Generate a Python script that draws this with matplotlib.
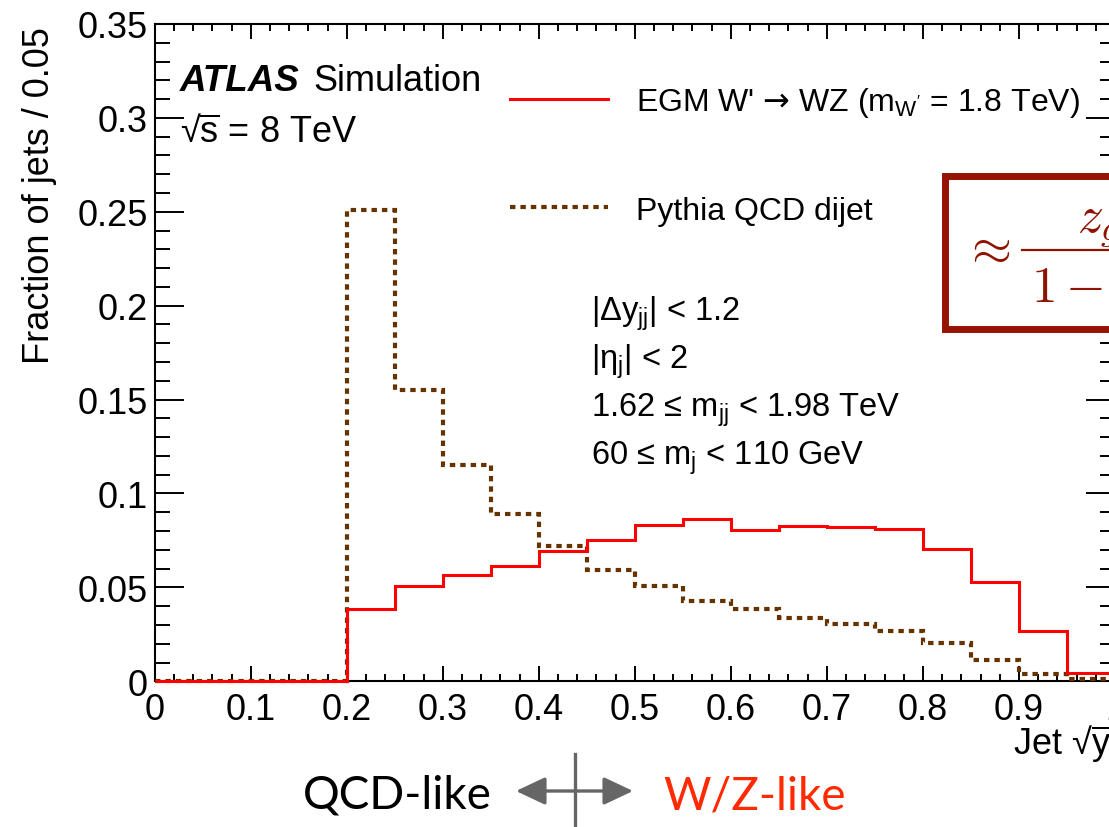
import matplotlib
matplotlib.use("Agg")
import matplotlib.pyplot as plt
import numpy as np
from matplotlib.lines import Line2D
from matplotlib.patches import FancyArrowPatch, Rectangle
from matplotlib.ticker import FormatStrFormatter, MultipleLocator

W, H = 1109, 828

# Jet sqrt(y_f) histogram, 20 bins of width 0.05
bin_edges = np.round(np.linspace(0.0, 1.0, 21), 2)
wz_signal = [0, 0, 0, 0, 0.0385, 0.0507, 0.0568, 0.0616, 0.0693, 0.0755,
             0.0833, 0.0863, 0.0808, 0.0829, 0.0819, 0.0810, 0.0702, 0.0529, 0.0270, 0.0045]
qcd_dijet = [0, 0, 0, 0, 0.2510, 0.1550, 0.1152, 0.0889, 0.0719, 0.0595,
             0.0508, 0.0430, 0.0385, 0.0339, 0.0307, 0.0270, 0.0202, 0.0114, 0.0037, 0.0010]

labels = ["EGM W' $\\mathsf{\u2192}$ WZ (m$_{\\mathregular{W'}}$ = 1.8 TeV)", "Pythia QCD dijet"]
cuts = ["|\u0394y$_{\\mathregular{jj}}$| < 1.2",
        "|\u03b7$_{\\mathregular{j}}$| < 2",
        "1.62 \u2264 m$_{\\mathregular{jj}}$ < 1.98 TeV",
        "60 \u2264 m$_{\\mathregular{j}}$ < 110 GeV"]

RED = "#ff0000"
BROWN = "#663300"
BOX = "#951300"
DOTS = (0, (1.3, 1.2))

plt.rcParams["font.family"] = ["Liberation Sans", "DejaVu Sans"]
plt.rcParams["mathtext.fontset"] = "custom"
plt.rcParams["mathtext.rm"] = "Liberation Sans"
plt.rcParams["mathtext.it"] = "Liberation Sans:italic"
plt.rcParams["mathtext.bf"] = "Liberation Sans:bold"
plt.rcParams["mathtext.sf"] = "DejaVu Sans"


def fx(x):
    return x / W


def fy(y):
    return 1 - y / H


fig = plt.figure(figsize=(W / 100, H / 100), dpi=100)
ax = fig.add_axes([fx(154.7), fy(682.3), (1115 - 154.7) / W, (682.3 - 25) / H])

ax.stairs(qcd_dijet, bin_edges, color=BROWN, lw=3, linestyle=DOTS, clip_on=False, zorder=3)
ax.stairs(wz_signal, bin_edges, color=RED, lw=2.2, clip_on=False, zorder=4)

ax.set_xlim(0, 1)
ax.set_ylim(0, 0.35)
ax.xaxis.set_major_locator(MultipleLocator(0.1))
ax.xaxis.set_minor_locator(MultipleLocator(0.02))
ax.yaxis.set_major_locator(MultipleLocator(0.05))
ax.yaxis.set_minor_locator(MultipleLocator(0.01))
ax.xaxis.set_major_formatter(FormatStrFormatter("%g"))
ax.yaxis.set_major_formatter(FormatStrFormatter("%g"))
ax.tick_params(which="both", direction="in", top=True, right=True, width=1.4, labelsize=26)
ax.tick_params(axis="x", which="major", length=11, pad=8)
ax.tick_params(axis="x", which="minor", length=5)
ax.tick_params(axis="y", which="major", length=21, pad=5)
ax.tick_params(axis="y", which="minor", length=10.5)
for sp in ax.spines.values():
    sp.set_linewidth(1.5)

handles = [Line2D([], [], color=RED, lw=2.2),
           Line2D([], [], color=BROWN, lw=3, linestyle=DOTS)]
ax.legend(handles, labels, loc="upper left", bbox_to_anchor=(fx(510), fy(86)),
          bbox_transform=fig.transFigure, frameon=False, fontsize=23, borderpad=0,
          borderaxespad=0, handlelength=3.06, handletextpad=0.87, labelspacing=2.4)

fig.text(fx(40), fy(27), "Fraction of jets / 0.05", rotation=90, ha="center", va="top", fontsize=26)
fig.text(fx(1013), fy(755), "Jet \u221a$\\overline{\\mathregular{y}_{\\mathregular{f}}}$",
         ha="left", va="baseline", fontsize=26)

fig.text(fx(180), fy(91), "ATLAS", fontsize=26.5, fontweight="bold", fontstyle="italic", va="baseline")
fig.text(fx(313), fy(91), "Simulation", fontsize=26, va="baseline")
fig.text(fx(180), fy(143), "\u221a$\\overline{\\mathregular{s}}$ = 8 TeV", fontsize=26, va="baseline")

for i, cut in enumerate(cuts):
    fig.text(fx(591), fy(321 + 48 * i), cut, fontsize=23.5, va="baseline")

# boxed formula sticking out of the right edge
fig.add_artist(Rectangle((fx(944.5), fy(329.5)), fx(400), (329.5 - 176.5) / H,
                         transform=fig.transFigure, facecolor="white", edgecolor=BOX,
                         lw=5, zorder=5))
formula = dict(math_fontfamily="cm", fontsize=37, color="#8f1400", zorder=6)
fig.text(fx(962), fy(249), r"$\approx$", ha="left", va="center", **formula)
fig.add_artist(Line2D([fx(1022), fx(1200)], [fy(251), fy(251)], transform=fig.transFigure,
                      color="#8f1400", lw=1.6, zorder=6))
fig.text(fx(1077), fy(232), r"$z_g$", ha="left", va="baseline", **formula)
fig.text(fx(1031), fy(302), r"$1-z_g$", ha="left", va="baseline", **formula)

# QCD-like <-> W/Z-like
fig.text(fx(397), fy(796), "QCD-like", family="Lato", fontsize=33, ha="center", va="center")
fig.text(fx(755), fy(797), "W/Z-like", family="Lato", fontsize=33, color="#ff2a00",
         ha="center", va="center")
fig.add_artist(FancyArrowPatch((fx(516), fy(792)), (fx(633), fy(792)), transform=fig.transFigure,
                               arrowstyle="<|-|>,head_length=18,head_width=8.5", mutation_scale=1,
                               color="#666666", lw=2.4, shrinkA=0, shrinkB=0))
fig.add_artist(Line2D([fx(575), fx(575)], [fy(755), fy(830)], transform=fig.transFigure,
                      color="#666666", lw=2.4))

fig.savefig("out.png", dpi=100)
